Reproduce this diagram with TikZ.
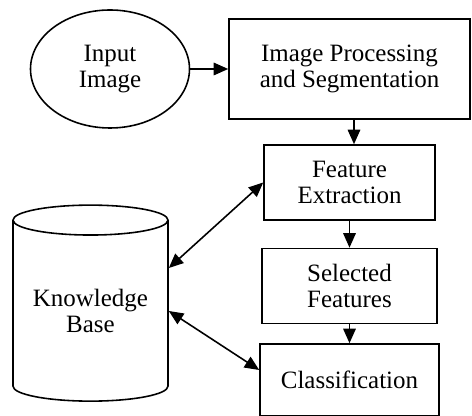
\documentclass[tikz,border=0pt]{standalone}
\usepackage{fontspec}
\setmainfont{Liberation Serif}
\usetikzlibrary{shapes.geometric, arrows.meta, positioning}
\tikzstyle{source} = [
  ellipse,
  minimum width=3.18cm,
  minimum height=2.36cm,
  inner sep=0,
  align=center,
  draw=black,
  line width=0.9pt
]
\tikzstyle{process} = [
  rectangle,
  minimum width=3.5cm,
  minimum height=1.5cm,
  align=center,
  inner sep=0,
  draw=black,
  line width=0.9pt
]
\tikzstyle{store} = [
  cylinder,
  shape border rotate=90,
  aspect=0.26,
  minimum width=3.1cm,
  minimum height=3.92cm,
  align=center,
  inner sep=0,
  draw=black,
  line width=0.9pt
]
\tikzstyle{arrow} = [
  line width=0.9pt,
  -{Triangle[length=2.9mm, width=2.5mm]}
]
\tikzstyle{twoway} = [
  line width=0.9pt,
  {Triangle[length=2.9mm, width=2.5mm]}-{Triangle[length=2.9mm, width=2.5mm]}
]
\begin{document}
\begin{tikzpicture}[node distance=2.07cm, font=\fontsize{14.2}{14.4}\selectfont]

    \useasboundingbox (-2.2,1.38) rectangle (7.24,-6.94);

    \node (input) [source] {Input\\Image};
    \node (segment) [process, right of=input, xshift=2.72cm, minimum width=4.82cm, minimum height=2cm] {Image Processing\\and Segmentation};
    \node (extract) [process, below of=segment, yshift=-0.2cm, minimum width=3.42cm] {Feature\\Extraction};
    \node (selected) [process, below of=extract] {Selected\\Features};
    \node (classify) [process, below of=selected, yshift=0.19cm, minimum width=3.58cm, minimum height=1.44cm] {Classification};
    \node (kb) [store, left of=selected, xshift=-3.11cm, yshift=-0.5cm] {Knowledge\\Base};

    \draw [arrow] (input) -- (segment);
    \draw [arrow] ([xshift=0.09cm]segment.south) -- ([xshift=0.09cm]extract.north);
    \draw [arrow] (extract) -- (selected);
    \draw [arrow] (selected) -- (classify);
    \draw [twoway] ([yshift=0.86cm]kb.east) -- (extract.west);
    \draw [twoway] (kb.east) -- ([yshift=0.2cm]classify.west);

\end{tikzpicture}
\end{document}
